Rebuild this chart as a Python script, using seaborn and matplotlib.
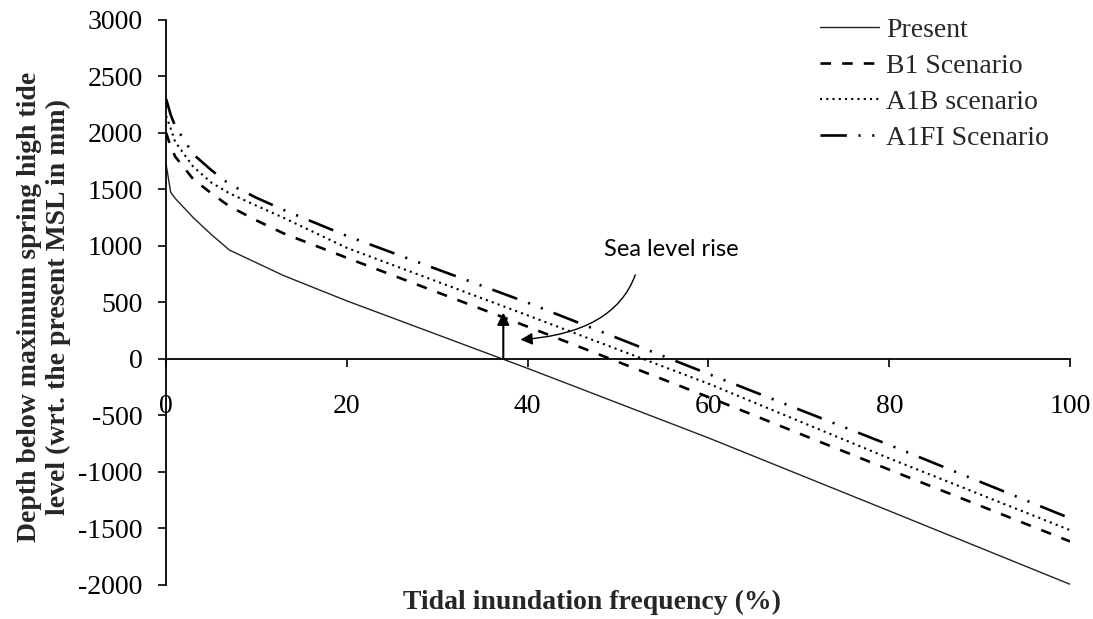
import matplotlib
matplotlib.use("Agg")
import matplotlib.pyplot as plt
import seaborn as sns
import pandas as pd

# Tidal inundation frequency (%) and depth below max spring high tide (mm)
freq = [0, 0.5, 1, 3, 5, 7, 10, 13, 20, 40, 60, 80, 100]
present = [1720, 1475, 1420, 1250, 1100, 963, 850, 737, 513, -84, -699, -1345, -1994]
b1 = [2000, 1880, 1790, 1590, 1465, 1350, 1225, 1110, 894, 285, -338, -980, -1615]
a1b = [2150, 2040, 1920, 1700, 1560, 1465, 1355, 1248, 982, 385, -219, -880, -1515]
a1fi = [2300, 2160, 2060, 1810, 1670, 1545, 1425, 1318, 1088, 497, -133, -761, -1410]

series_names = ["Present", "B1 Scenario", "A1B scenario", "A1FI Scenario"]
y_ticks = list(range(-2000, 3001, 500))
x_ticks = [0, 20, 40, 60, 80, 100]

# Sea-level-rise arrow: from the present zero crossing up to the scenarios
slr_x = 37.3
slr_top = 410

sns.set_theme(style="white")
plt.rcParams["font.family"] = ["Liberation Serif", "DejaVu Serif"]

df = pd.DataFrame({
    "freq": freq * 4,
    "depth": present + b1 + a1b + a1fi,
    "series": sum([[n] * len(freq) for n in series_names], []),
})

fig = plt.figure(figsize=(10.93, 6.19), dpi=100)
ax = fig.add_axes([0.152, 0.055, 0.827, 0.913])

styles = {
    "Present": dict(lw=1.0, linestyle="-", color="#222222"),
    "B1 Scenario": dict(lw=1.9, linestyle=(0, (4, 4.2)), color="black"),
    "A1B scenario": dict(lw=1.5, linestyle=(0, (1, 2)), color="black"),
    "A1FI Scenario": dict(lw=1.9, linestyle=(0, (10, 4.4, 0.8, 4.4, 0.8, 4.4)), color="black"),
}
for name in series_names:
    sub = df[df["series"] == name]
    sns.lineplot(data=sub, x="freq", y="depth", ax=ax, label=name, **styles[name])

ax.set_xlim(0, 100)
ax.set_ylim(-2000, 3000)
ax.set_xticks(x_ticks)
ax.set_yticks(y_ticks)
ax.set_xticklabels([str(v) for v in x_ticks])
ax.set_yticklabels([str(v) for v in y_ticks])

for s in ["top", "right"]:
    ax.spines[s].set_visible(False)
ax.spines["bottom"].set_position(("data", 0))
for s in ["left", "bottom"]:
    ax.spines[s].set_color("black")
    ax.spines[s].set_linewidth(1.3)

ax.tick_params(axis="both", which="major", direction="out", length=6, width=1.2,
               colors="black", labelsize=20, bottom=True, left=True)
ax.tick_params(axis="x", pad=19)
ax.tick_params(axis="y", pad=11)

ax.set_xlabel("")
ax.set_ylabel("")
fig.text(0.542, 0.026, "Tidal inundation frequency (%)", ha="center", va="center",
         fontsize=20, fontweight="bold")
fig.text(0.040, 0.504, "Depth below maximum spring high tide\nlevel (wrt. the present MSL in mm)",
         ha="center", va="center", rotation=90, fontsize=20, fontweight="bold",
         linespacing=1.2)

# Annotation
ax.annotate("", xy=(slr_x, slr_top), xytext=(slr_x, 0),
            arrowprops=dict(arrowstyle="-|>", color="black", lw=1.5,
                            mutation_scale=18, shrinkA=0, shrinkB=0))
ax.annotate("", xy=(39.2, 170), xytext=(51.9, 743),
            arrowprops=dict(arrowstyle="-|>", color="black", lw=1.0,
                            mutation_scale=18, shrinkA=0, shrinkB=0,
                            connectionstyle="angle3,angleA=70,angleB=4"))
ax.text(55.9, 965, "Sea level rise", ha="center", va="center",
        fontsize=17, family=["Lato", "DejaVu Sans"], color="black")

ax.legend(loc="upper left", bbox_to_anchor=(0.750, 0.972), bbox_transform=fig.transFigure,
          frameon=False, fontsize=20, handlelength=2.15, handletextpad=0.25,
          labelspacing=0.38, borderpad=0.0, borderaxespad=0.0)

fig.savefig("out.png", dpi=100, facecolor="white")
